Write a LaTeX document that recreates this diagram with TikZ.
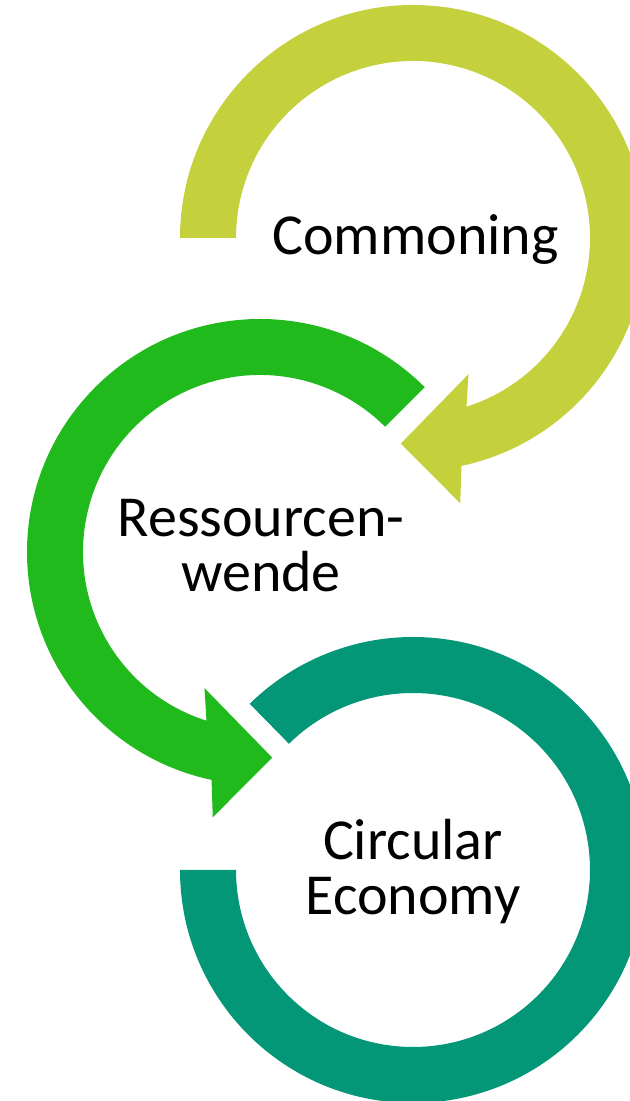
\documentclass[tikz,border=0pt]{standalone}
\usepackage{fontspec}
\setmainfont{Carlito}
\definecolor{lime}{RGB}{196,209,60}
\definecolor{grn}{RGB}{33,186,28}
\definecolor{teal2}{RGB}{3,150,119}
\begin{document}
\begin{tikzpicture}[x=0.5pt,y=0.5pt,
  lbl/.style={font=\fontsize{29}{29}\selectfont, inner sep=0pt, anchor=base, text=black}]
\useasboundingbox (0,0) rectangle (630,1101);
\clip (0,0) rectangle (630,1101);
% top arrow (Commoning)
\begin{scope}[shift={(413,863)}]
  \fill[lime] (180:233) arc[start angle=180, end angle=-78, radius=233]
    -- (-79.9:269.5) -- (-93.4:206) -- (-67.8:147) -- (-72.4:177)
    arc[start angle=-72.4, end angle=180, radius=177] -- cycle;
\end{scope}
% middle arrow (Ressourcenwende)
\begin{scope}[shift={(260,549)}]
  \fill[grn] (45:233) arc[start angle=45, end angle=258, radius=233]
    -- (259.9:269.5) -- (273.4:206) -- (247.8:147) -- (252.4:177)
    arc[start angle=252.4, end angle=45, radius=177] -- cycle;
\end{scope}
% bottom arc (Circular Economy)
\begin{scope}[shift={(413,231)}]
  \fill[teal2] (180:233) arc[start angle=180, end angle=494.5, radius=233]
    -- (494.5:177) arc[start angle=494.5, end angle=180, radius=177] -- cycle;
\end{scope}
\node[lbl] (common) at (415.5,846) {Commoning};
\node[lbl] (res1) at (261,564) {Ressourcen-};
\node[lbl] (res2) at (261,509) {wende};
\node[lbl] (circ1) at (413,241) {Circular};
\node[lbl] (circ2) at (413,186) {Economy};
\end{tikzpicture}
\end{document}
